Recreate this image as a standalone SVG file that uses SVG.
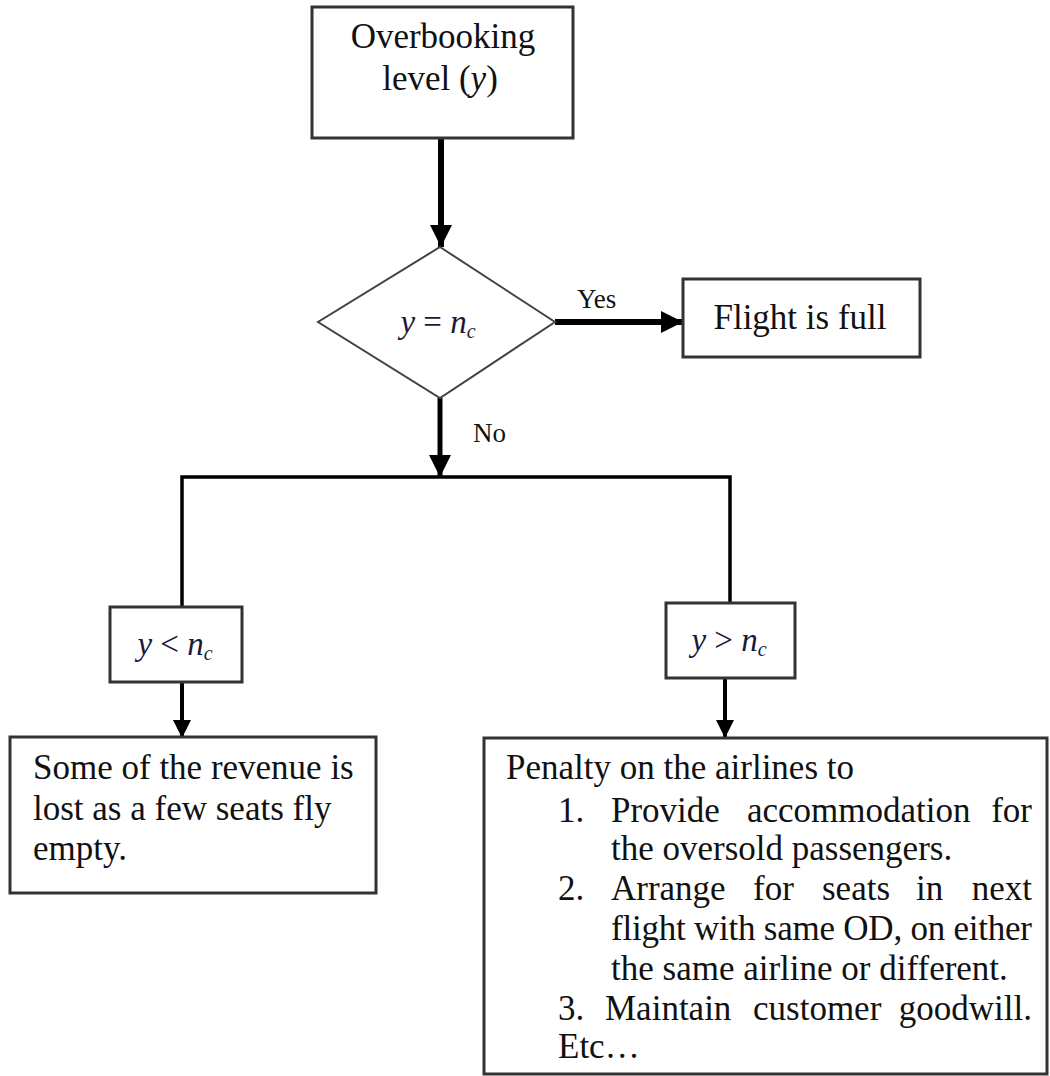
<svg xmlns="http://www.w3.org/2000/svg" width="1050" height="1076" viewBox="0 0 1050 1076">
<style>
.box{fill:#fff;stroke:#333;stroke-width:3}
.t{font-family:"Liberation Serif","Times New Roman",serif;font-size:35px;fill:#111}
.m{font-family:"Liberation Serif","Times New Roman",serif;font-size:33px;fill:#1a1a3a;font-style:italic}
.lbl{font-family:"Liberation Serif","Times New Roman",serif;font-size:27px;fill:#111}
.c{stroke:#000;fill:none}
</style>
<defs>
<marker id="ah" viewBox="0 0 22 22" refX="22" refY="11" markerWidth="22" markerHeight="22" markerUnits="userSpaceOnUse" orient="auto"><path d="M0,0 L22,11 L0,22 z" fill="#000"/></marker>
<marker id="ahs" viewBox="0 0 18 18" refX="18" refY="9" markerWidth="18" markerHeight="18" markerUnits="userSpaceOnUse" orient="auto"><path d="M0,0 L18,9 L0,18 z" fill="#000"/></marker>
</defs>
<rect width="1050" height="1076" fill="#fff"/>
<g id="connectors">
<line class="c" x1="441" y1="138" x2="441" y2="247" stroke-width="6" marker-end="url(#ah)"/>
<line class="c" x1="555" y1="322" x2="683" y2="322" stroke-width="6" marker-end="url(#ah)"/>
<line class="c" x1="440" y1="398" x2="440" y2="477" stroke-width="5" marker-end="url(#ah)"/>
<polyline class="c" points="182,607 182,477 730,477 730,603" stroke-width="3.5"/>
<line class="c" x1="182" y1="682" x2="182" y2="738" stroke-width="4" marker-end="url(#ahs)"/>
<line class="c" x1="725" y1="678" x2="725" y2="738" stroke-width="4" marker-end="url(#ahs)"/>
<text class="lbl" x="577" y="308">Yes</text>
<text class="lbl" x="473" y="442">No</text>
</g>
<g id="overbooking">
<rect class="box" x="312" y="7" width="261" height="131"/>
<text class="t" x="443" y="48" text-anchor="middle">Overbooking</text>
<text class="t" x="440" y="90" text-anchor="middle">level (<tspan font-style="italic">y</tspan>)</text>
</g>
<g id="decision">
<polygon points="440,247 555,322 440,398 318,322" fill="#fff" stroke="#444" stroke-width="2"/>
<text class="m" x="438" y="333" text-anchor="middle">y<tspan font-style="normal"> = </tspan>n<tspan font-size="20" dy="5">c</tspan></text>
</g>
<g id="full">
<rect class="box" x="683" y="279" width="237" height="78"/>
<text class="t" x="800" y="329" text-anchor="middle">Flight is full</text>
</g>
<g id="less">
<rect class="box" x="110" y="607" width="132" height="75"/>
<text class="m" x="175" y="655" text-anchor="middle">y<tspan font-style="normal"> &lt; </tspan>n<tspan font-size="20" dy="5">c</tspan></text>
</g>
<g id="greater">
<rect class="box" x="666" y="603" width="129" height="75"/>
<text class="m" x="729" y="651" text-anchor="middle">y<tspan font-style="normal"> &gt; </tspan>n<tspan font-size="20" dy="5">c</tspan></text>
</g>
<g id="lost">
<rect class="box" x="10" y="737" width="366" height="156"/>
<text class="t" x="33" y="779">Some of the revenue is</text>
<text class="t" x="33" y="820">lost as a few seats fly</text>
<text class="t" x="33" y="860">empty.</text>
</g>
<g id="penalty">
<rect class="box" x="484" y="738" width="563" height="336"/>
<text class="t" x="506" y="779">Penalty on the airlines to</text>
<text class="t" x="558" y="822">1.</text>
<text class="t" x="611" y="822">Provide</text>
<text class="t" x="747" y="822">accommodation</text>
<text class="t" x="1032" y="822" text-anchor="end">for</text>
<text class="t" x="611" y="860">the oversold passengers.</text>
<text class="t" x="558" y="900">2.</text>
<text class="t" x="611" y="900">Arrange</text>
<text class="t" x="753" y="900">for</text>
<text class="t" x="822" y="900">seats</text>
<text class="t" x="916" y="900">in</text>
<text class="t" x="1032" y="900" text-anchor="end">next</text>
<text class="t" x="611" y="940" textLength="421" lengthAdjust="spacing">flight with same OD, on either</text>
<text class="t" x="611" y="980">the same airline or different.</text>
<text class="t" x="558" y="1020">3.</text>
<text class="t" x="605" y="1020">Maintain</text>
<text class="t" x="753" y="1020">customer</text>
<text class="t" x="1032" y="1020" text-anchor="end">goodwill.</text>
<text class="t" x="558" y="1058">Etc…</text>
</g>
</svg>
